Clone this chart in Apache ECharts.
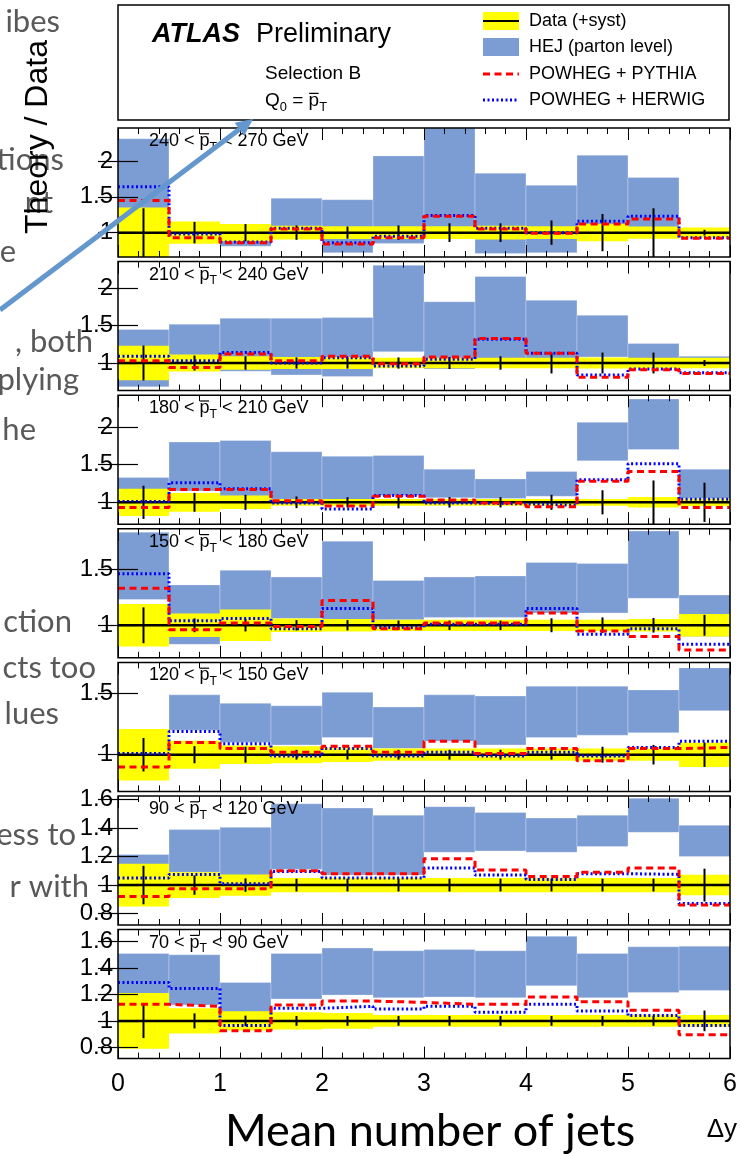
<!DOCTYPE html>
<html>
<head>
<meta charset="utf-8">
<script src="https://cdn.jsdelivr.net/npm/echarts@6/dist/echarts.min.js"></script>
<style>
  html, body { margin: 0; padding: 0; background: #ffffff; }
  #chart { width: 741px; height: 1154px; }
</style>
</head>
<body>
<div id="chart"></div>
<script>
// ---- Data -------------------------------------------------------------
// Bin edges in delta-y (12 bins of width 0.5)
const binEdges = [0, 0.5, 1, 1.5, 2, 2.5, 3, 3.5, 4, 4.5, 5, 5.5, 6];
const xTickValues = [0, 1, 2, 3, 4, 5, 6];

// pT slices, top to bottom
const ptLow  = [240, 210, 180, 150, 120, 90, 70];
const ptHigh = [270, 240, 210, 180, 150, 120, 90];

// Vertical range and labelled ticks of each ratio panel
const yRanges = [[0.66, 2.46], [0.63, 2.36], [0.71, 2.42], [0.71, 1.86], [0.70, 1.755], [0.72, 1.625], [0.715, 1.69]];
const yTicks = [
  [1, 1.5, 2], [1, 1.5, 2], [1, 1.5, 2], [1, 1.5], [1, 1.5],
  [0.8, 1, 1.2, 1.4, 1.6], [0.8, 1, 1.2, 1.4, 1.6]
];

// Data: systematic band half-width around 1, and statistical error half-length
const dataSyst = [
  [0.35, 0.155, 0.12, 0.095, 0.09, 0.09, 0.09, 0.095, 0.09, 0.12, 0.085, 0.07],
  [0.23, 0.115, 0.09, 0.08, 0.08, 0.07, 0.07, 0.07, 0.07, 0.075, 0.07, 0.07],
  [0.18, 0.125, 0.09, 0.045, 0.045, 0.045, 0.045, 0.045, 0.045, 0.045, 0.07, 0.05],
  [0.19, 0.105, 0.14, 0.06, 0.055, 0.05, 0.05, 0.05, 0.05, 0.05, 0.055, 0.10],
  [0.21, 0.115, 0.075, 0.07, 0.06, 0.05, 0.05, 0.05, 0.05, 0.05, 0.05, 0.10],
  [0.15, 0.09, 0.075, 0.05, 0.05, 0.05, 0.05, 0.05, 0.05, 0.05, 0.05, 0.072],
  [0.21, 0.095, 0.073, 0.065, 0.06, 0.045, 0.045, 0.045, 0.045, 0.045, 0.045, 0.045]
];
const dataStat = [
  [0.34, 0.15, 0.12, 0.10, 0.085, 0.10, 0.13, 0.13, 0.17, 0.26, 0.34, 0.04],
  [0.235, 0.10, 0.09, 0.075, 0.075, 0.075, 0.08, 0.09, 0.14, 0.14, 0.14, 0.04],
  [0.22, 0.125, 0.10, 0.077, 0.068, 0.08, 0.07, 0.068, 0.10, 0.16, 0.29, 0.26],
  [0.16, 0.062, 0.055, 0.046, 0.046, 0.042, 0.042, 0.042, 0.062, 0.07, 0.065, 0.093],
  [0.137, 0.07, 0.065, 0.04, 0.04, 0.04, 0.04, 0.04, 0.04, 0.065, 0.08, 0.10],
  [0.135, 0.068, 0.047, 0.045, 0.045, 0.045, 0.045, 0.045, 0.045, 0.045, 0.045, 0.115],
  [0.13, 0.057, 0.04, 0.037, 0.037, 0.037, 0.037, 0.037, 0.037, 0.037, 0.037, 0.078]
];

// HEJ (parton level) band: lower and upper edge per bin
const hejLow = [
  [1.33, 0.93, 0.81, 1.00, 0.72, 0.85, 1.05, 0.71, 0.72, 1.00, 1.00, 0.95],
  [0.68, 0.95, 0.89, 0.84, 0.82, 1.15, 0.92, 1.00, 1.05, 1.08, 1.00, 0.98],
  [0.97, 1.15, 1.08, 1.04, 1.03, 1.09, 1.06, 1.05, 1.08, 1.55, 1.70, 1.05],
  [1.23, 0.83, 1.00, 1.06, 1.05, 1.05, 1.07, 1.07, 1.11, 1.11, 1.24, 0.90],
  [0.90, 1.20, 1.10, 1.08, 1.14, 1.05, 1.11, 1.08, 1.14, 1.16, 1.18, 1.36],
  [0.95, 1.09, 1.00, 1.11, 1.07, 1.07, 1.23, 1.24, 1.23, 1.27, 1.37, 1.20],
  [1.18, 1.12, 1.065, 1.165, 1.195, 1.175, 1.18, 1.175, 1.265, 1.175, 1.215, 1.23]
];
const hejHigh = [
  [2.31, 1.10, 1.10, 1.48, 1.46, 2.07, 2.60, 1.83, 1.66, 2.08, 1.77, 1.05],
  [1.45, 1.52, 1.60, 1.60, 1.61, 2.31, 1.82, 2.16, 1.84, 1.64, 1.26, 1.09],
  [1.33, 1.80, 1.82, 1.67, 1.61, 1.62, 1.44, 1.31, 1.41, 2.06, 2.37, 1.44],
  [1.83, 1.36, 1.49, 1.43, 1.75, 1.40, 1.43, 1.44, 1.56, 1.55, 1.84, 1.27],
  [1.10, 1.49, 1.42, 1.40, 1.51, 1.39, 1.49, 1.48, 1.56, 1.56, 1.53, 1.71],
  [1.215, 1.39, 1.405, 1.57, 1.54, 1.49, 1.55, 1.51, 1.47, 1.49, 1.61, 1.42],
  [1.51, 1.50, 1.29, 1.51, 1.55, 1.53, 1.54, 1.53, 1.64, 1.51, 1.56, 1.565]
];

// POWHEG + PYTHIA and POWHEG + HERWIG ratios to data
const powhegPythia = [
  [1.45, 0.93, 0.86, 1.05, 0.84, 0.93, 1.23, 1.05, 0.99, 1.12, 1.19, 0.92],
  [1.03, 0.94, 1.12, 1.03, 1.09, 0.99, 1.08, 1.33, 1.13, 0.81, 0.91, 0.86],
  [0.93, 1.17, 1.17, 1.02, 0.95, 1.08, 1.03, 0.99, 0.94, 1.28, 1.41, 0.93],
  [1.33, 0.96, 1.02, 0.99, 1.22, 0.97, 1.02, 1.02, 1.11, 0.95, 0.90, 0.78],
  [0.90, 1.10, 1.05, 1.02, 1.07, 1.02, 1.11, 1.01, 1.05, 0.95, 1.05, 1.06],
  [0.92, 0.975, 0.975, 1.10, 1.08, 1.08, 1.185, 1.105, 1.06, 1.09, 1.12, 0.86],
  [1.125, 1.11, 0.925, 1.12, 1.15, 1.14, 1.125, 1.125, 1.18, 1.145, 1.08, 0.895]
];
const powhegHerwig = [
  [1.64, 0.98, 0.87, 1.06, 0.86, 0.95, 1.24, 1.06, 1.00, 1.16, 1.23, 0.93],
  [1.09, 1.03, 1.14, 1.00, 1.07, 0.96, 1.05, 1.32, 1.13, 0.84, 0.92, 0.87],
  [1.01, 1.26, 1.18, 0.99, 0.91, 1.09, 0.99, 0.98, 0.96, 1.30, 1.51, 1.04],
  [1.46, 1.04, 1.06, 0.97, 1.15, 0.98, 1.01, 1.01, 1.15, 0.92, 0.97, 0.83],
  [1.01, 1.19, 1.09, 0.99, 1.05, 0.99, 1.02, 0.99, 1.02, 0.99, 1.06, 1.11],
  [1.05, 1.075, 1.01, 1.095, 1.05, 1.05, 1.12, 1.07, 1.04, 1.08, 1.075, 0.87],
  [1.29, 1.245, 0.965, 1.095, 1.11, 1.09, 1.11, 1.065, 1.125, 1.075, 1.04, 0.965]
];

// Data points sit at ratio 1 by construction
const dataCentral = 1;

// Slide text running behind the figure: [text, right edge x, centre y]
const slideFragments = [
  ['ibes', 60, 22], ['tions', 64, 160], ['nt', 53, 203], ['e', 16, 252],
  [', both', 93, 342], ['plying', 79, 380], ['he', 36, 430],
  ['ction', 72, 622], ['cts too', 96, 668], ['lues', 59, 714],
  ['ess to', 76, 835], ['r with', 89, 887]
];

// ---- Layout & style ---------------------------------------------------
const GRID_LEFT = 118, GRID_W = 612, PANEL_TOP0 = 128, PANEL_STEP = 133.6, PANEL_H = 129;
const HEJ_COLOR = '#7c9cd4', SYST_COLOR = '#ffff00';
const ROOT_FONT = "'Liberation Sans', Arial, sans-serif";
const SLIDE_FONT = "Lato, 'Open Sans', sans-serif";

const measureCtx = document.createElement('canvas').getContext('2d');
function textWidth(str, font) { measureCtx.font = font; return measureCtx.measureText(str).width; }

// Lays out a run of text pieces (plain / subscript / overlined) from x, centred on cy
function textRun(x, cy, parts, base) {
  const out = [];
  let cx = x;
  for (const p of parts) {
    const size = p.sub ? base.size * 0.68 : base.size;
    const weight = base.weight || 'normal', fstyle = base.style || 'normal';
    const w = textWidth(p.t, `${fstyle} ${weight} ${size}px ${base.family}`);
    const y = p.sub ? cy + base.size * 0.36 : cy;
    out.push({
      type: 'text', z: 30, x: cx, y: y, silent: true,
      style: {
        text: p.t, fontSize: size, fontFamily: base.family, fontWeight: weight, fontStyle: fstyle,
        fill: base.color || '#000', textAlign: 'left', textVerticalAlign: 'middle',
        align: 'left', verticalAlign: 'middle'
      }
    });
    if (p.bar) {
      const by = cy - base.size * 0.40;
      out.push({ type: 'line', z: 30, silent: true,
        shape: { x1: cx + 0.5, y1: by, x2: cx + w - 0.5, y2: by },
        style: { stroke: '#000', lineWidth: Math.max(1, base.size / 15) } });
    }
    cx += w;
  }
  return out;
}

function clipRect(params) {
  const c = params.coordSys;
  return { x: c.x, y: c.y, width: c.width, height: c.height };
}

// Filled box per bin: value = [x0, x1, low, high]
function bandRenderer(fill, stroke) {
  return function (params, api) {
    const p0 = api.coord([api.value(0), api.value(3)]);
    const p1 = api.coord([api.value(1), api.value(2)]);
    const r = echarts.graphic.clipRectByRect(
      { x: p0[0], y: p0[1], width: p1[0] - p0[0], height: p1[1] - p0[1] }, clipRect(params));
    if (!r) return null;
    return { type: 'rect', shape: r, style: { fill: fill, stroke: stroke || null, lineWidth: stroke ? 0.8 : 0 } };
  };
}

// Vertical error bar per bin: value = [xCentre, low, high]
function errorRenderer(params, api) {
  const a = api.coord([api.value(0), api.value(1)]);
  const b = api.coord([api.value(0), api.value(2)]);
  const c = params.coordSys;
  const y1 = Math.min(Math.max(a[1], c.y), c.y + c.height);
  const y2 = Math.min(Math.max(b[1], c.y), c.y + c.height);
  return { type: 'line', shape: { x1: a[0], y1: y1, x2: b[0], y2: y2 },
    style: { stroke: '#000', lineWidth: 2 } };
}

function stepPoints(values) {
  const pts = [];
  values.forEach((v, k) => { pts.push([binEdges[k], v]); pts.push([binEdges[k + 1], v]); });
  return pts;
}

const grids = [], xAxes = [], yAxes = [], series = [], graphics = [];

for (let i = 0; i < ptLow.length; i++) {
  const top = PANEL_TOP0 + i * PANEL_STEP;
  grids.push({ left: GRID_LEFT, top: top, width: GRID_W, height: PANEL_H, show: true,
    borderColor: '#000', borderWidth: 1.5, backgroundColor: 'transparent', z: 10 });

  ['bottom', 'top'].forEach(pos => {
    xAxes.push({
      type: 'value', gridIndex: i, position: pos, min: 0, max: 6, interval: 1, z: 11,
      axisLine: { show: false }, splitLine: { show: false }, minorSplitLine: { show: false },
      axisTick: { show: true, inside: true, length: 12, lineStyle: { color: '#000', width: 1 } },
      minorTick: { show: true, splitNumber: 5, length: 6, lineStyle: { color: '#000', width: 1 } },
      axisLabel: { show: pos === 'bottom' && i === ptLow.length - 1, customValues: xTickValues,
        fontSize: 25, fontFamily: ROOT_FONT, color: '#000', margin: 13,
        formatter: v => String(v) }
    });
  });
  ['left', 'right'].forEach(pos => {
    yAxes.push({
      type: 'value', gridIndex: i, position: pos, min: yRanges[i][0], max: yRanges[i][1], z: 11,
      axisLine: { show: false }, splitLine: { show: false },
      axisTick: { show: true, inside: true, length: 20, customValues: yTicks[i],
        lineStyle: { color: '#000', width: 1.2 } },
      axisLabel: { show: pos === 'left', customValues: yTicks[i], fontSize: 24,
        fontFamily: ROOT_FONT, color: '#000', margin: 5, formatter: v => String(v) }
    });
  });

  const xi = 2 * i, yi = 2 * i;
  const bins = binEdges.slice(0, -1);

  series.push({
    type: 'custom', xAxisIndex: xi, yAxisIndex: yi, z: 2, silent: true,
    renderItem: bandRenderer(HEJ_COLOR, 'rgba(255,255,255,0.35)'),
    data: bins.map((x0, k) => [x0, binEdges[k + 1], hejLow[i][k], hejHigh[i][k]])
  });
  series.push({
    type: 'custom', xAxisIndex: xi, yAxisIndex: yi, z: 3, silent: true,
    renderItem: bandRenderer(SYST_COLOR),
    data: bins.map((x0, k) => [x0, binEdges[k + 1], dataCentral - dataSyst[i][k], dataCentral + dataSyst[i][k]])
  });
  series.push({
    type: 'line', xAxisIndex: xi, yAxisIndex: yi, z: 4, silent: true, symbol: 'none',
    lineStyle: { color: '#000', width: 2.5 },
    data: stepPoints(bins.map(() => dataCentral))
  });
  series.push({
    type: 'custom', xAxisIndex: xi, yAxisIndex: yi, z: 4, silent: true,
    renderItem: errorRenderer,
    data: bins.map((x0, k) => [(x0 + binEdges[k + 1]) / 2, dataCentral - dataStat[i][k], dataCentral + dataStat[i][k]])
  });
  series.push({
    type: 'line', xAxisIndex: xi, yAxisIndex: yi, z: 5, silent: true, symbol: 'none',
    lineStyle: { color: '#0000ff', width: 3, type: [2, 2.5] },
    data: stepPoints(powhegHerwig[i])
  });
  series.push({
    type: 'line', xAxisIndex: xi, yAxisIndex: yi, z: 6, silent: true, symbol: 'none',
    lineStyle: { color: '#ff0000', width: 3, type: [7, 4.5] },
    data: stepPoints(powhegPythia[i])
  });

  // pT slice label in the panel's upper-left corner
  textRun(149, top + 13, [
    { t: ptLow[i] + ' < ' }, { t: 'p', bar: true }, { t: 'T', sub: true }, { t: ' < ' + ptHigh[i] + ' GeV' }
  ], { size: 18, family: ROOT_FONT }).forEach(e => graphics.push(e));
}

// Slide text fragments (behind everything else)
slideFragments.forEach(([t, xr, cy]) => {
  graphics.push({ type: 'text', z: 0, x: xr, y: cy, silent: true,
    style: { text: t, fontSize: 31, fontFamily: SLIDE_FONT, fill: '#595959',
      textAlign: 'right', textVerticalAlign: 'middle', align: 'right', verticalAlign: 'middle' } });
});

// Legend / title box
graphics.push({ type: 'rect', z: 20, silent: true, shape: { x: 118, y: 5, width: 611, height: 115 },
  style: { fill: '#fff', stroke: '#000', lineWidth: 1.5 } });
textRun(152, 35, [{ t: 'ATLAS' }], { size: 27, family: ROOT_FONT, weight: 'bold', style: 'italic' })
  .forEach(e => graphics.push(e));
textRun(256, 35, [{ t: 'Preliminary' }], { size: 27, family: ROOT_FONT }).forEach(e => graphics.push(e));
textRun(265, 74, [{ t: 'Selection B' }], { size: 19, family: ROOT_FONT }).forEach(e => graphics.push(e));
textRun(265, 101, [{ t: 'Q' }, { t: '0', sub: true }, { t: ' = ' }, { t: 'p', bar: true }, { t: 'T', sub: true }],
  { size: 19, family: ROOT_FONT }).forEach(e => graphics.push(e));

const legendRows = [
  ['Data (+syst)', 21], ['HEJ (parton level)', 47], ['POWHEG + PYTHIA', 74], ['POWHEG + HERWIG', 100]
];
graphics.push({ type: 'rect', z: 21, silent: true, shape: { x: 483, y: 12, width: 36, height: 18 }, style: { fill: SYST_COLOR } });
graphics.push({ type: 'line', z: 22, silent: true, shape: { x1: 483, y1: 21, x2: 519, y2: 21 }, style: { stroke: '#000', lineWidth: 2 } });
graphics.push({ type: 'rect', z: 21, silent: true, shape: { x: 483, y: 38, width: 36, height: 18 }, style: { fill: HEJ_COLOR } });
graphics.push({ type: 'line', z: 21, silent: true, shape: { x1: 483, y1: 74, x2: 519, y2: 74 }, style: { stroke: '#ff0000', lineWidth: 3, lineDash: [7, 4.5] } });
graphics.push({ type: 'line', z: 21, silent: true, shape: { x1: 483, y1: 100, x2: 519, y2: 100 }, style: { stroke: '#0000ff', lineWidth: 3, lineDash: [2, 2.5] } });
legendRows.forEach(([t, cy]) => textRun(529, cy, [{ t: t }], { size: 18, family: ROOT_FONT }).forEach(e => graphics.push(e)));

// Axis titles
graphics.push({ type: 'text', z: 25, x: 38, y: 137, rotation: Math.PI / 2, silent: true,
  style: { text: 'Theory / Data', fontSize: 32, fontFamily: ROOT_FONT, fill: '#000',
    textAlign: 'center', textVerticalAlign: 'middle', align: 'center', verticalAlign: 'middle' } });
graphics.push({ type: 'text', z: 25, x: 737, y: 1130, silent: true,
  style: { text: 'Δy', fontSize: 26, fontFamily: ROOT_FONT, fill: '#000',
    textAlign: 'right', textVerticalAlign: 'middle', align: 'right', verticalAlign: 'middle' } });
graphics.push({ type: 'text', z: 25, x: 430, y: 1131, silent: true,
  style: { text: 'Mean number of jets', fontSize: 45, fontFamily: SLIDE_FONT, fill: '#000',
    textAlign: 'center', textVerticalAlign: 'middle', align: 'center', verticalAlign: 'middle' } });

// Pointer arrow drawn over the figure
(function () {
  const x0 = 0, y0 = 310, tx = 253, ty = 119, headLen = 17, headHalf = 8;
  const len = Math.hypot(tx - x0, ty - y0), ux = (tx - x0) / len, uy = (ty - y0) / len;
  const bx = tx - headLen * ux, by = ty - headLen * uy;
  graphics.push({ type: 'line', z: 40, silent: true, shape: { x1: x0, y1: y0, x2: bx, y2: by },
    style: { stroke: '#6397cd', lineWidth: 5 } });
  graphics.push({ type: 'polygon', z: 40, silent: true,
    shape: { points: [[tx, ty], [bx - headHalf * uy, by + headHalf * ux], [bx + headHalf * uy, by - headHalf * ux]] },
    style: { fill: '#6397cd' } });
})();

const chart = echarts.init(document.getElementById('chart'), null, { renderer: 'canvas' });
chart.setOption({
  animation: false,
  backgroundColor: '#ffffff',
  grid: grids,
  xAxis: xAxes,
  yAxis: yAxes,
  series: series,
  graphic: graphics
});
</script>
</body>
</html>
